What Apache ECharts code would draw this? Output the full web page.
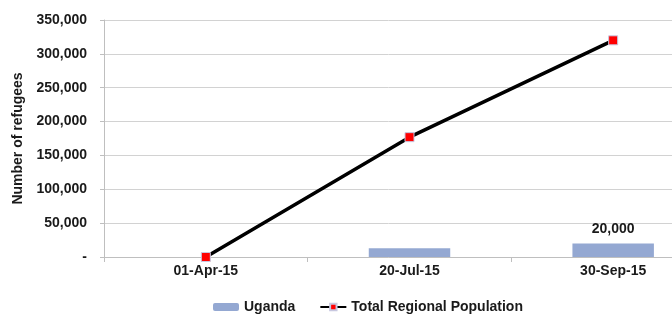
<!DOCTYPE html>
<html lang="en">
<head>
<meta charset="utf-8">
<script src="https://cdn.jsdelivr.net/npm/echarts@6/dist/echarts.min.js"></script>
<style type="text/css">
	html, body { margin: 0; padding: 0; background: #fff; }
	#chart { width: 672px; height: 314px; }
</style>
</head>
<body>
<div id="chart"></div>
<script type="text/javascript">
	// data
	var dates = ['01-Apr-15', '20-Jul-15', '30-Sep-15'];
	var uganda = [0, 13000, 20000];
	var totalRegional = [0, 177000, 320000];
	var ugandaLabels = ['', '', '20,000'];

	var font = 'Liberation Sans, Arial, sans-serif';
	var chart = echarts.init(document.getElementById('chart'));

	// the original plot runs past the right edge of the picture
	chart.setOption({
		animation: false,
		grid: { left: 104, right: -43, top: 20, bottom: 57, outerBoundsMode: 'none' },
		legend: {
			left: 208,
			top: 295,
			itemWidth: 26,
			itemHeight: 8,
			itemGap: 24,
			textStyle: { fontFamily: font, fontSize: 14, fontWeight: 'bold', color: '#1a1a1a' },
			data: ['Uganda', 'Total Regional Population']
		},
		xAxis: {
			type: 'category',
			data: dates,
			axisLine: { lineStyle: { color: '#bfbfbf', width: 1 } },
			axisTick: { show: true, length: 5, lineStyle: { color: '#bfbfbf' } },
			axisLabel: { margin: 7, fontFamily: font, fontSize: 14, fontWeight: 'bold', color: '#1a1a1a' }
		},
		yAxis: {
			type: 'value',
			min: 0,
			max: 350000,
			interval: 50000,
			name: 'Number of refugees',
			nameLocation: 'middle',
			nameGap: 79,
			nameTextStyle: { fontFamily: font, fontSize: 14, fontWeight: 'bold', color: '#1a1a1a' },
			axisLine: { show: true, lineStyle: { color: '#bfbfbf', width: 1 } },
			axisTick: { show: true, length: 4, lineStyle: { color: '#bfbfbf' } },
			axisLabel: {
				margin: 17,
				fontFamily: font, fontSize: 14, fontWeight: 'bold', color: '#1a1a1a',
				formatter: function (v) { return v === 0 ? '-' : v.toLocaleString('en-US'); }
			},
			splitLine: { lineStyle: { color: '#d2d2d2', width: 1 } }
		},
		series: [{
			name: 'Uganda',
			type: 'bar',
			barWidth: '40%',
			itemStyle: { color: '#94a8d2' },
			label: {
				show: true,
				position: 'top',
				distance: 7,
				fontFamily: font, fontSize: 14, fontWeight: 'bold', color: '#1a1a1a',
				formatter: function (p) { return ugandaLabels[p.dataIndex]; }
			},
			data: uganda
		}, {
			name: 'Total Regional Population',
			type: 'line',
			symbol: 'rect',
			symbolSize: 9,
			lineStyle: { color: '#000', width: 3.5 },
			itemStyle: { color: '#ff0000', borderColor: '#c8c8e0', borderWidth: 1 },
			data: totalRegional
		}]
	});
</script>
</body>
</html>
